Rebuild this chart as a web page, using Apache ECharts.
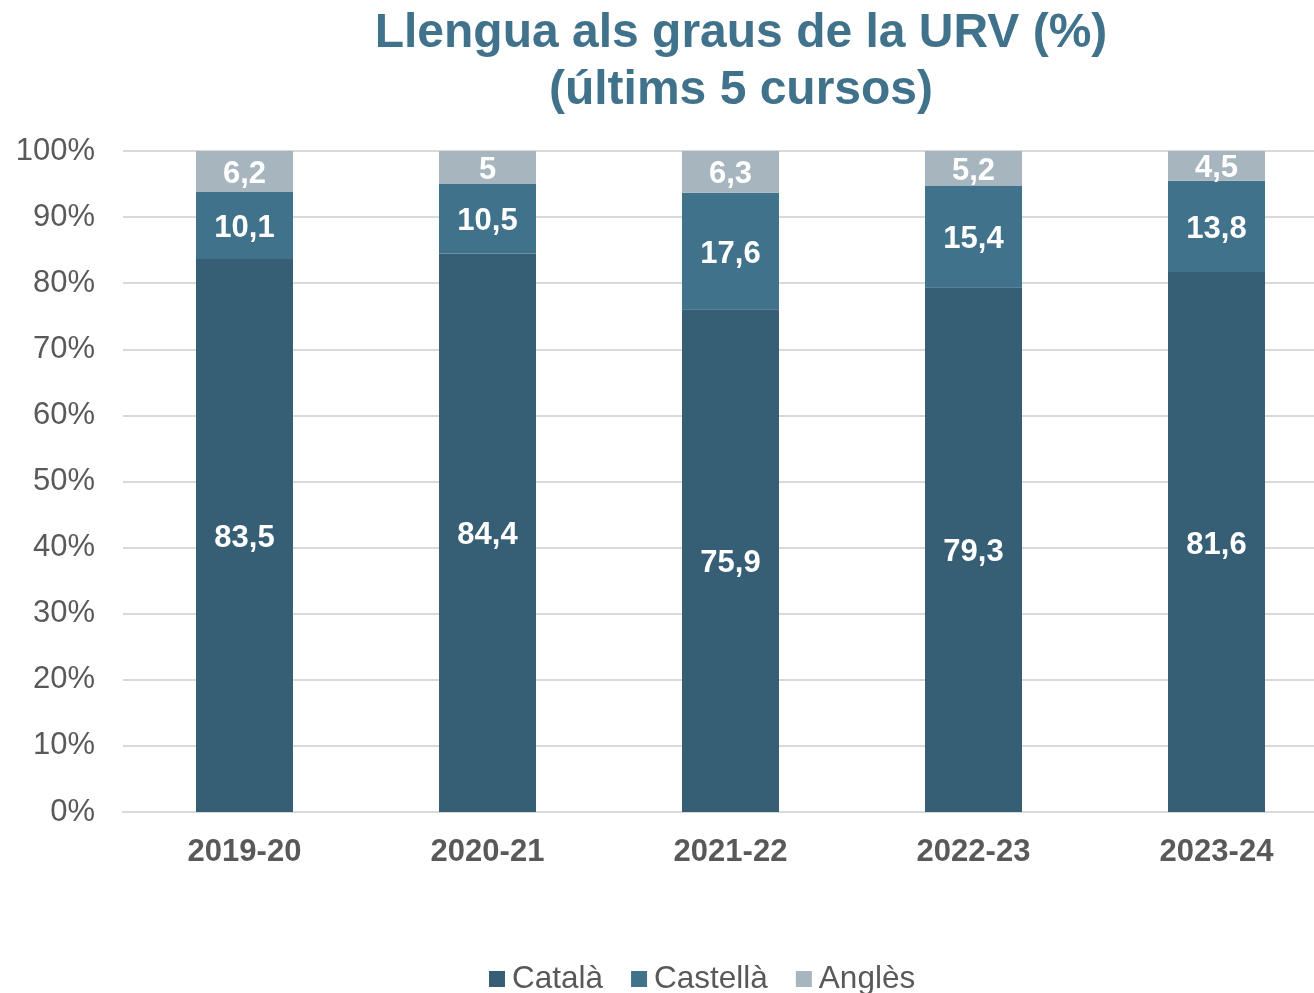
<!DOCTYPE html>
<html>
<head>
<meta charset="utf-8">
<script src="https://cdn.jsdelivr.net/npm/echarts@6/dist/echarts.min.js"></script>
<style>
html, body { margin: 0; padding: 0; background: #fff; }
#chart { width: 1314px; height: 993px; }
</style>
</head>
<body>
<div id="chart"></div>
<script>
// dades
var cursos = ['2019-20', '2020-21', '2021-22', '2022-23', '2023-24'];
var catala = [83.5, 84.4, 75.9, 79.3, 81.6];
var castella = [10.1, 10.5, 17.6, 15.4, 13.8];
var angles = [6.2, 5, 6.3, 5.2, 4.5];
var yTicks = [0, 10, 20, 30, 40, 50, 60, 70, 80, 90, 100];

var colors = ['#365E75', '#41728B', '#A7B5BF'];
var font = 'Liberation Sans, Arial, sans-serif';

// barra apilada al 100%
var totals = cursos.map(function (c, i) { return catala[i] + castella[i] + angles[i]; });
function pct(arr) {
  return arr.map(function (v, i) { return { value: v / totals[i] * 100, raw: v }; });
}
function fmt(p) { return String(p.data.raw).replace('.', ','); }

function serie(name, arr, color) {
  return {
    name: name,
    type: 'bar',
    stack: 'total',
    barWidth: 97,
    data: pct(arr),
    itemStyle: { color: color },
    label: {
      show: true,
      position: 'inside',
      offset: [0, 3],
      color: '#fff',
      fontFamily: font,
      fontWeight: 'bold',
      fontSize: 31,
      formatter: fmt
    }
  };
}

var chart = echarts.init(document.getElementById('chart'));
chart.setOption({
  animation: false,
  title: {
    text: 'Llengua als graus de la URV (%)\n(últims 5 cursos)',
    left: 736,
    textAlign: 'center',
    top: 0,
    textStyle: {
      color: '#41728B',
      fontFamily: font,
      fontWeight: 'bold',
      fontSize: 48,
      lineHeight: 57
    }
  },
  legend: {
    top: 958,
    left: 484,
    itemWidth: 16,
    itemHeight: 16,
    itemGap: 28,
    icon: 'rect',
    textStyle: { color: '#595959', fontFamily: font, fontSize: 31.5, padding: [0, 0, 0, 2] },
    data: ['Català', 'Castellà', 'Anglès']
  },
  grid: { left: 123, width: 1215, top: 151, bottom: 181, outerBoundsMode: 'none', containLabel: false },
  xAxis: {
    type: 'category',
    data: cursos,
    axisTick: { show: false },
    axisLine: { lineStyle: { color: '#D9D9D9', width: 2 } },
    axisLabel: {
      color: '#595959',
      fontFamily: font,
      fontWeight: 'bold',
      fontSize: 31,
      margin: 25
    }
  },
  yAxis: {
    type: 'value',
    min: yTicks[0],
    max: yTicks[yTicks.length - 1],
    interval: 10,
    axisLine: { show: false },
    axisTick: { show: false },
    splitLine: { lineStyle: { color: '#D9D9D9', width: 2 } },
    axisLabel: {
      color: '#595959',
      fontFamily: font,
      fontSize: 31,
      margin: 28,
      formatter: '{value}%'
    }
  },
  series: [
    serie('Català', catala, colors[0]),
    serie('Castellà', castella, colors[1]),
    serie('Anglès', angles, colors[2])
  ]
});
</script>
</body>
</html>
